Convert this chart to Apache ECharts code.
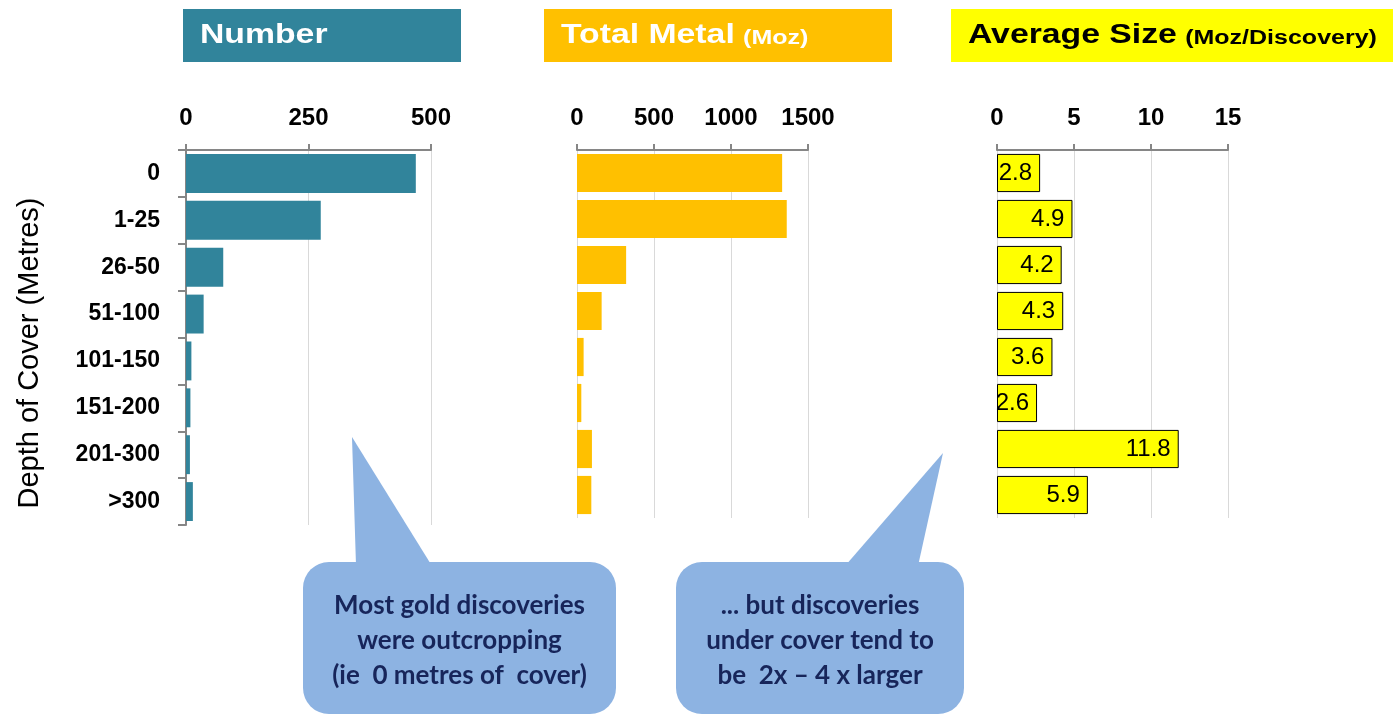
<!DOCTYPE html>
<html>
<head>
<meta charset="utf-8">
<script src="https://cdn.jsdelivr.net/npm/echarts@6/dist/echarts.min.js"></script>
<style>
html,body{margin:0;padding:0;background:#fff;}
#chart{width:1393px;height:716px;}
</style>
</head>
<body>
<div id="chart"></div>
<script>
const categories = ['0', '1-25', '26-50', '51-100', '101-150', '151-200', '201-300', '>300'];
const numberValues = [469, 275, 76, 36, 11, 9, 8, 14];
const metalValues = [1332, 1362, 319, 160, 43, 28, 97, 93];
const avgValues = [2.8, 4.9, 4.2, 4.3, 3.6, 2.6, 11.8, 5.9];
const numberAxis = { max: 500, interval: 250 };
const metalAxis = { max: 1500, interval: 500 };
const avgAxis = { max: 15, interval: 5 };
const panelTitles = ['Number', 'Total Metal', 'Average Size'];
const panelUnits = ['', '(Moz)', '(Moz/Discovery)'];
const yAxisName = 'Depth of Cover (Metres)';
const note1 = ['Most gold discoveries', 'were outcropping', '(ie  0 metres of  cover)'];
const note2 = ['... but discoveries', 'under cover tend to', 'be  2x \u2013 4 x larger'];

const chart = echarts.init(document.getElementById('chart'));
const FONT = '"Liberation Sans", Arial, sans-serif';
const tickLabel = { show: true, fontFamily: FONT, fontWeight: 'bold', fontSize: 24, color: '#000', margin: 20,
  formatter: v => String(v) };

function xAx(idx, cfg) {
  return {
    type: 'value', gridIndex: idx, position: 'top', min: 0, max: cfg.max, interval: cfg.interval,
    axisLine: { show: true, lineStyle: { color: '#868686', width: 2 } },
    axisTick: { show: true, length: 6, lineStyle: { color: '#868686', width: 2 } },
    axisLabel: tickLabel,
    splitLine: { show: true, lineStyle: { color: '#D9D9D9', width: 1 } }
  };
}
function yAx(idx, showAll) {
  return {
    type: 'category', gridIndex: idx, data: categories, inverse: true,
    axisLine: { show: showAll, lineStyle: { color: '#868686', width: 2 } },
    axisTick: { show: showAll, length: 8, lineStyle: { color: '#868686', width: 2 } },
    axisLabel: { show: showAll, fontFamily: FONT, fontWeight: 'bold', fontSize: 23, color: '#000', margin: 26 },
    splitLine: { show: false }
  };
}

function callout(box, tail, lines) {
  const cx = box.x + box.w / 2;
  const els = [
    { type: 'polygon', shape: { points: tail }, style: { fill: '#8DB3E2' }, z: 100 },
    { type: 'rect', shape: { x: box.x, y: box.y, width: box.w, height: box.h, r: 26 }, style: { fill: '#8DB3E2' }, z: 100 }
  ];
  lines.forEach((t, i) => {
    els.push({ type: 'text', x: cx, y: box.y + 44 + i * 35, z: 101,
      style: { text: t, fill: '#17255A', font: 'bold 26px Lato, "Open Sans", sans-serif', textAlign: 'center', textVerticalAlign: 'middle' } });
  });
  return els;
}

function titleText(x, main, unit, col) {
  const rich = {
    a: { fontFamily: FONT, fontWeight: 'bold', fontSize: 27, fill: col, color: col },
    b: { fontFamily: FONT, fontWeight: 'bold', fontSize: 20, fill: col, color: col, padding: [4, 0, 0, 0] }
  };
  return { type: 'text', x: x, y: 36, scaleX: 1.25, z: 10,
    style: { text: '{a|' + main + '}' + (unit ? '  {b|' + unit + '}' : ''), fill: col, textVerticalAlign: 'middle', rich: rich } };
}

const graphics = [
  { type: 'rect', shape: { x: 183, y: 9, width: 278, height: 53 }, style: { fill: '#31849B' } },
  { type: 'rect', shape: { x: 544, y: 9, width: 348, height: 53 }, style: { fill: '#FFC000' } },
  { type: 'rect', shape: { x: 951, y: 9, width: 442, height: 53 }, style: { fill: '#FFFF00' } },
  titleText(200, panelTitles[0], panelUnits[0], '#ffffff'),
  titleText(561, panelTitles[1], panelUnits[1], '#ffffff'),
  titleText(968, panelTitles[2], panelUnits[2], '#000000'),
  { type: 'text', x: 30, y: 353, rotation: Math.PI / 2,
    style: { text: yAxisName, font: '29px ' + FONT, fill: '#000', textAlign: 'center', textVerticalAlign: 'middle' } }
].concat(
  callout({ x: 303, y: 562, w: 313, h: 152 }, [[352, 437], [356, 566], [432, 566]], note1),
  callout({ x: 676, y: 562, w: 288, h: 152 }, [[943, 453], [845, 566], [918, 566]], note2)
);

chart.setOption({
  animation: false,
  backgroundColor: '#fff',
  grid: [
    { left: 186, top: 150, width: 245, height: 375 },
    { left: 577, top: 150, width: 231, height: 368 },
    { left: 997, top: 150, width: 231, height: 368 }
  ],
  xAxis: [xAx(0, numberAxis), xAx(1, metalAxis), xAx(2, avgAxis)],
  yAxis: [yAx(0, true), yAx(1, false), yAx(2, false)],
  series: [
    { type: 'bar', xAxisIndex: 0, yAxisIndex: 0, data: numberValues, barCategoryGap: '17%',
      itemStyle: { color: '#31849B' } },
    { type: 'bar', xAxisIndex: 1, yAxisIndex: 1, data: metalValues, barCategoryGap: '17%',
      itemStyle: { color: '#FFC000' } },
    { type: 'bar', xAxisIndex: 2, yAxisIndex: 2, data: avgValues, barCategoryGap: '17%',
      itemStyle: { color: '#FFFF00', borderColor: '#000', borderWidth: 1 },
      label: { show: true, position: 'insideRight', distance: 8, fontFamily: FONT, fontSize: 24, color: '#000',
        formatter: p => p.value.toFixed(1) } }
  ],
  graphic: graphics
});
</script>
</body>
</html>
